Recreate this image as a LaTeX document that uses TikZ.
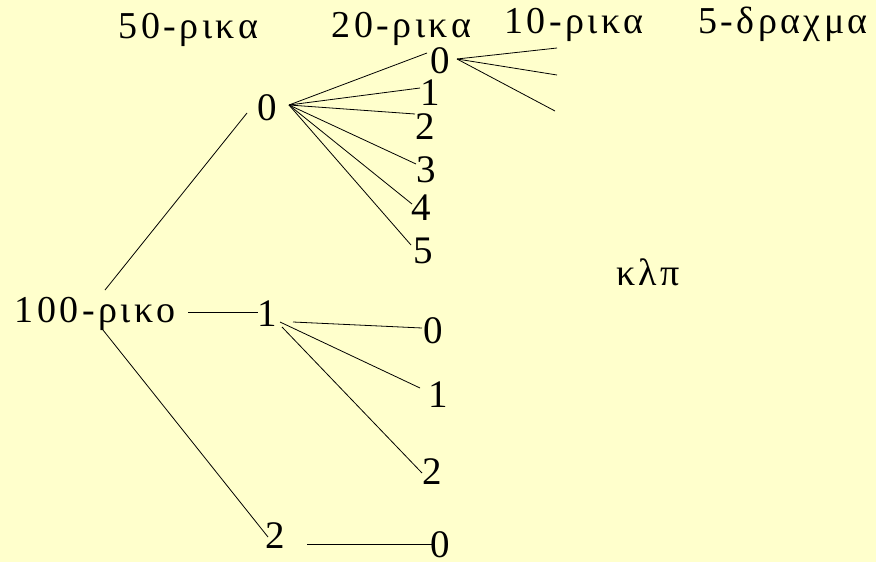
\documentclass[tikz,border=0pt]{standalone}
\usepackage{fontspec}
\setmainfont{Liberation Serif}
\newfontfamily\spacedfont[LetterSpace=9]{Liberation Serif}
\definecolor{bgyellow}{HTML}{FFFFCC}
\begin{document}
\begin{tikzpicture}[x=1pt,y=-1pt,
  lbl/.style={anchor=base,inner sep=0pt,font=\fontsize{39}{44}\selectfont},
  hdr/.style={anchor=base,inner sep=0pt,font=\fontsize{38}{44}\spacedfont},
  edge/.style={draw=black,line width=0.8pt}]
\fill[bgyellow] (0,0) rectangle (876,562);
\useasboundingbox (0,0) rectangle (876,562);
% headers
\node[hdr] (h50) at (188.5,38) {50-ρικα};
\node[hdr] (h20) at (401.5,37) {20-ρικα};
\node[hdr] (h10) at (574,34) {10-ρικα};
\node[hdr] (h5) at (783,34) {5-δραχμα};
\node[hdr] (etc) at (648,285) {κλπ};
% nodes
\node[hdr] (root) at (95,322) {100-ρικο};
\node[lbl] (a0) at (267,120) {0};
\node[lbl] (a1) at (267,326) {1};
\node[lbl] (a2) at (275,548) {2};
\node[lbl] (b0) at (440,73) {0};
\node[lbl] (b1) at (430,105) {1};
\node[lbl] (b2) at (425,139) {2};
\node[lbl] (b3) at (426,182) {3};
\node[lbl] (b4) at (421,220) {4};
\node[lbl] (b5) at (423,263) {5};
\node[lbl] (c0) at (433,343) {0};
\node[lbl] (c1) at (438,407) {1};
\node[lbl] (c2) at (432,484) {2};
\node[lbl] (d0) at (440,557) {0};
% connector end points
\coordinate (rA) at (105,290); \coordinate (a0W) at (247,113);
\coordinate (rB) at (188,312); \coordinate (a1W) at (258,312);
\coordinate (rC) at (103,330); \coordinate (a2W) at (268,537);
\coordinate (a0E) at (289,105);
\coordinate (b0W) at (427,53); \coordinate (b1W) at (420,88);
\coordinate (b2W) at (415,114); \coordinate (b3W) at (416,164);
\coordinate (b4W) at (412,204); \coordinate (b5W) at (411,245);
\coordinate (b0E) at (457,59);
\coordinate (e1) at (557,48); \coordinate (e2) at (557,75); \coordinate (e3) at (555,111);
\coordinate (a1Ea) at (293,322); \coordinate (c0W) at (422,328);
\coordinate (a1Eb) at (280,322); \coordinate (c1W) at (420,388);
\coordinate (a1Ec) at (282,327); \coordinate (c2W) at (422,473);
\coordinate (a2E) at (307,544); \coordinate (d0W) at (432,544);
% connectors
\draw[edge] (rA) -- (a0W);
\draw[edge] (rB) -- (a1W);
\draw[edge] (rC) -- (a2W);
\foreach \t in {b0W,b1W,b2W,b3W,b4W,b5W} \draw[edge] (a0E) -- (\t);
\foreach \t in {e1,e2,e3} \draw[edge] (b0E) -- (\t);
\draw[edge] (a1Ea) -- (c0W);
\draw[edge] (a1Eb) -- (c1W);
\draw[edge] (a1Ec) -- (c2W);
\draw[edge] (a2E) -- (d0W);
\end{tikzpicture}
\end{document}
